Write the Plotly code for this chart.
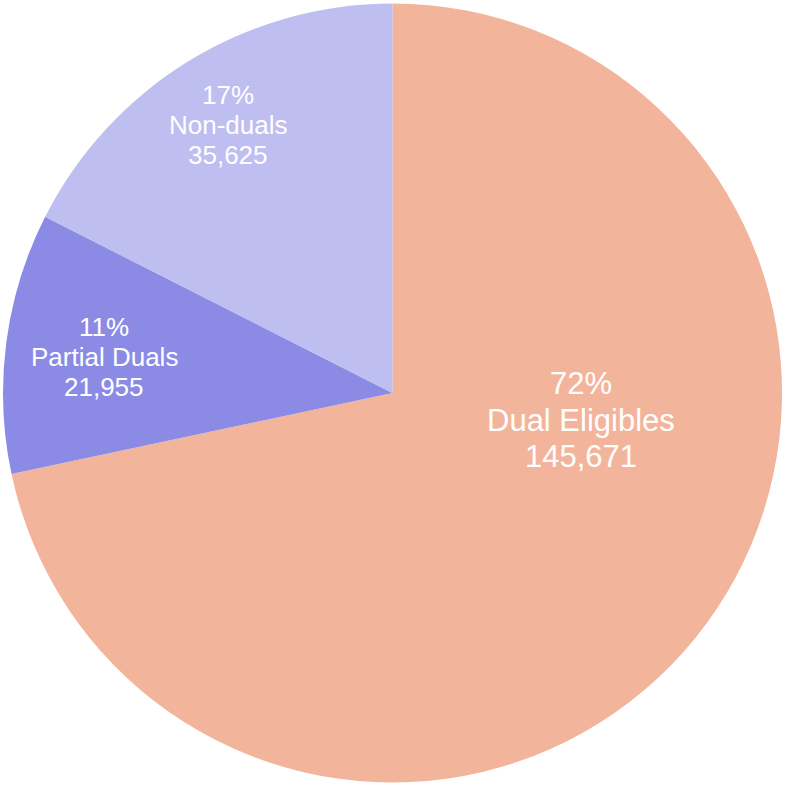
import plotly.graph_objects as go

categories = ["Dual Eligibles", "Partial Duals", "Non-duals"]
values = [145671, 21955, 35625]
pct_labels = ["72%", "11%", "17%"]
colors = ["#F3B49C", "#8B8BE6", "#BEBEF0"]

# label block centres (pixel), font size and line step per slice
label_pos = [(581, 420, 31, 36.5), (104, 357, 26, 30), (228, 125, 26, 30)]

W, H = 785, 786

fig = go.Figure(go.Pie(
    labels=categories,
    values=values,
    sort=False,
    direction="clockwise",
    rotation=0,
    marker=dict(colors=colors, line=dict(width=0)),
    textinfo="none",
    hoverinfo="label+value+percent",
    showlegend=False,
    domain=dict(x=[3 / W, 782 / W], y=[3 / H, 783 / H]),
))

annotations = []
for cat, val, pct, (cx, cy, fs, lh) in zip(categories, values, pct_labels, label_pos):
    lines = [pct, cat, f"{val:,}"]
    for i, t in enumerate(lines):
        py = cy + (i - 1) * lh
        annotations.append(dict(
            x=cx / W, y=1 - py / H, xref="paper", yref="paper",
            text=t, showarrow=False, xanchor="center", yanchor="middle",
            font=dict(family="Liberation Sans, Arial, sans-serif", size=fs, color="#FFFFFF"),
        ))

fig.update_layout(
    width=W, height=H,
    margin=dict(l=0, r=0, t=0, b=0),
    paper_bgcolor="white",
    plot_bgcolor="white",
    annotations=annotations,
)

fig.write_html("out.html", config={"displayModeBar": False},
               post_script="document.body.style.margin='0px';")
